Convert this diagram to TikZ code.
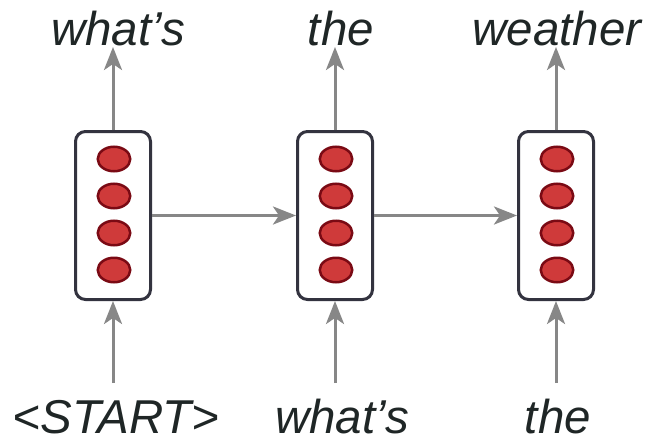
\documentclass[tikz,border=0pt]{standalone}
\usepackage{fontspec}
\setmainfont{Liberation Sans}
\usetikzlibrary{arrows.meta,shapes.geometric}
\definecolor{arrowgray}{HTML}{878787}
\definecolor{boxedge}{HTML}{33333F}
\definecolor{unitfill}{HTML}{CF3A3A}
\definecolor{unitedge}{HTML}{7A0A14}
\definecolor{wordcolor}{HTML}{1F2626}
\begin{document}
\begin{tikzpicture}[x=1pt,y=-1pt,
    cell/.style={draw=boxedge,line width=3pt,rounded corners=10pt,fill=white,
      minimum width=75pt,minimum height=168pt,inner sep=0pt},
    unit/.style={ellipse,draw=unitedge,fill=unitfill,line width=2.5pt,
      minimum width=32.5pt,minimum height=24.5pt,inner sep=0pt},
    flow/.style={draw=arrowgray,line width=3pt,
      -{Stealth[length=23pt,width=18pt,inset=6pt]}},
    word/.style={anchor=base,text=wordcolor,inner sep=0pt,
      font=\fontsize{47.5}{52}\selectfont\itshape}]
    \useasboundingbox (0,0) rectangle (650,439);
    % the three cells, each with four units
    \foreach \x [count=\i] in {113,335,556} {
        \node[cell] (rnn\i) at (\x,215.5) {};
        \foreach \dy [count=\j] in {-55.5,-18.5,18.5,55.5}
            \node[unit] (h\i\j) at (\x+1,214.5+\dy) {};
        % input and output ends
        \coordinate (in\i)  at (\x,383);
        \coordinate (out\i) at (\x,47);
        \draw[flow] (in\i) -- (rnn\i.south);
        \draw[flow] (rnn\i.north) -- (out\i);
    }
    % hidden state passed along
    \draw[flow] (rnn1) -- (rnn2);
    \draw[flow] (rnn2) -- (rnn3);
    % words
    \node[word] (y1) at (118,45) {what’s};
    \node[word] (y2) at (341,45) {the};
    \node[word] (y3) at (557,45) {weather};
    \node[word] (x1) at (116,433) {<START>};
    \node[word] (x2) at (342,433) {what’s};
    \node[word] (x3) at (558,433) {the};
\end{tikzpicture}
\end{document}
